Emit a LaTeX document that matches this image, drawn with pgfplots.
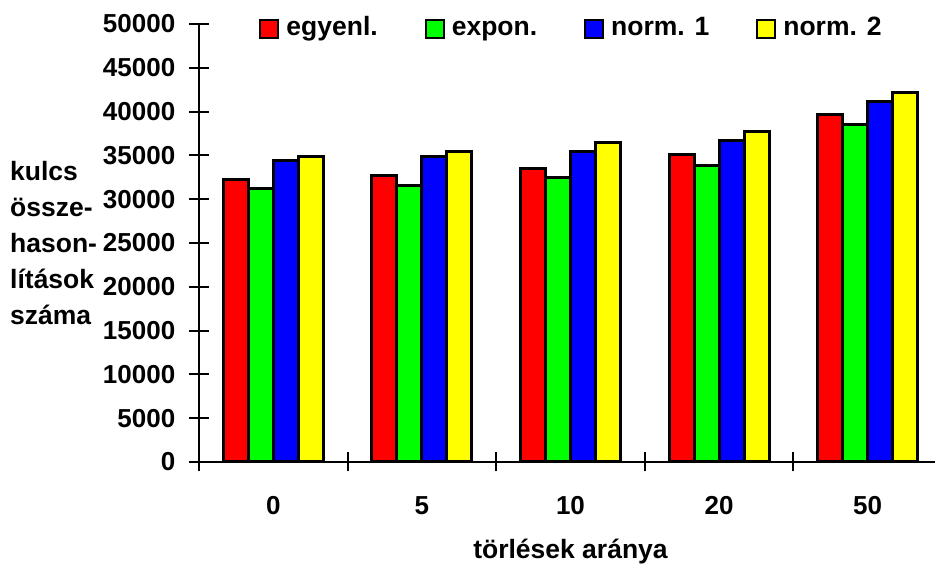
\documentclass[border=0pt]{standalone}
\usepackage{pgfplots}
\pgfplotsset{compat=1.18}
\usepackage{fontspec}
\setmainfont{Liberation Sans}
\newcommand\ff{\bfseries\fontsize{26.5}{36}\selectfont}
\newcommand\ft{\bfseries\fontsize{26}{30}\selectfont}
\definecolor{cred}{RGB}{255,0,0}
\definecolor{cgreen}{RGB}{0,255,0}
\definecolor{cblue}{RGB}{0,0,255}
\definecolor{cyellow}{RGB}{255,255,0}
\begin{document}
\begin{tikzpicture}
\begin{axis}[
 at={(199pt,103pt)}, anchor=south west,
 scale only axis, width=743pt, height=438pt,
 ybar=0pt, bar width=25pt,
 xmin=-0.5, xmax=4.5, ymin=0, ymax=50000,
 enlargelimits=false,
 scaled y ticks=false,
 axis x line=bottom, axis y line=left,
 axis line style={-, line width=2pt, black},
 tick style={black, line width=2pt},
 tick align=center,
 major tick length=19pt, minor tick length=19pt,
 xtick={0,1,2,3,4}, xticklabels={0,5,10,20,50},
 minor xtick={-0.5,0.5,1.5,2.5,3.5,4.5},
 major x tick style={draw=none},
 ytick={0,5000,10000,15000,20000,25000,30000,35000,40000,45000,50000},
 yticklabels={0,5000,10000,15000,20000,25000,30000,35000,40000,45000,50000},
 tick label style={font=\ft},
 xticklabel style={anchor=base, yshift=-43pt, inner sep=0pt},
 yticklabel style={anchor=east, xshift=-14pt, inner sep=0pt},
 xlabel={törlések aránya},
 xlabel style={at={(axis description cs:0.5,0)}, anchor=base, yshift=-96pt, font=\ff, inner sep=0pt},
 ylabel={kulcs\\össze-\\hason-\\lítások\\száma},
 ylabel style={rotate=-90, at={(axis description cs:0,0.5)}, anchor=west, xshift=-189pt, align=left, font=\ff, inner sep=0pt},
 legend columns=4,
 legend image code/.code={\draw[#1, line width=2pt, draw=black] (0pt,-9pt) rectangle (18pt,9pt);},
 legend style={draw=none, fill=none, at={(axis description cs:0.5,1)}, anchor=north, yshift=10pt, font=\ff,
   nodes={text height=19pt, text depth=6pt, inner sep=0pt},
   /tikz/every odd column/.append style={column sep=7pt},
   /tikz/every even column/.append style={column sep=47pt}},
 every axis plot/.append style={draw=black, line width=3pt},
]
\addplot[fill=cred] coordinates {(0,32300) (1,32650) (2,33500) (3,35100) (4,39700)};
\addplot[fill=cgreen] coordinates {(0,31200) (1,31600) (2,32500) (3,33900) (4,38500)};
\addplot[fill=cblue] coordinates {(0,34400) (1,34850) (2,35400) (3,36700) (4,41200)};
\addplot[fill=cyellow] coordinates {(0,34850) (1,35450) (2,36500) (3,37750) (4,42200)};
\legend{egyenl.,expon.,norm. 1,norm. 2}
\end{axis}
\pgfresetboundingbox
\useasboundingbox (0,0) rectangle (935pt,565pt);
\end{tikzpicture}
\end{document}
